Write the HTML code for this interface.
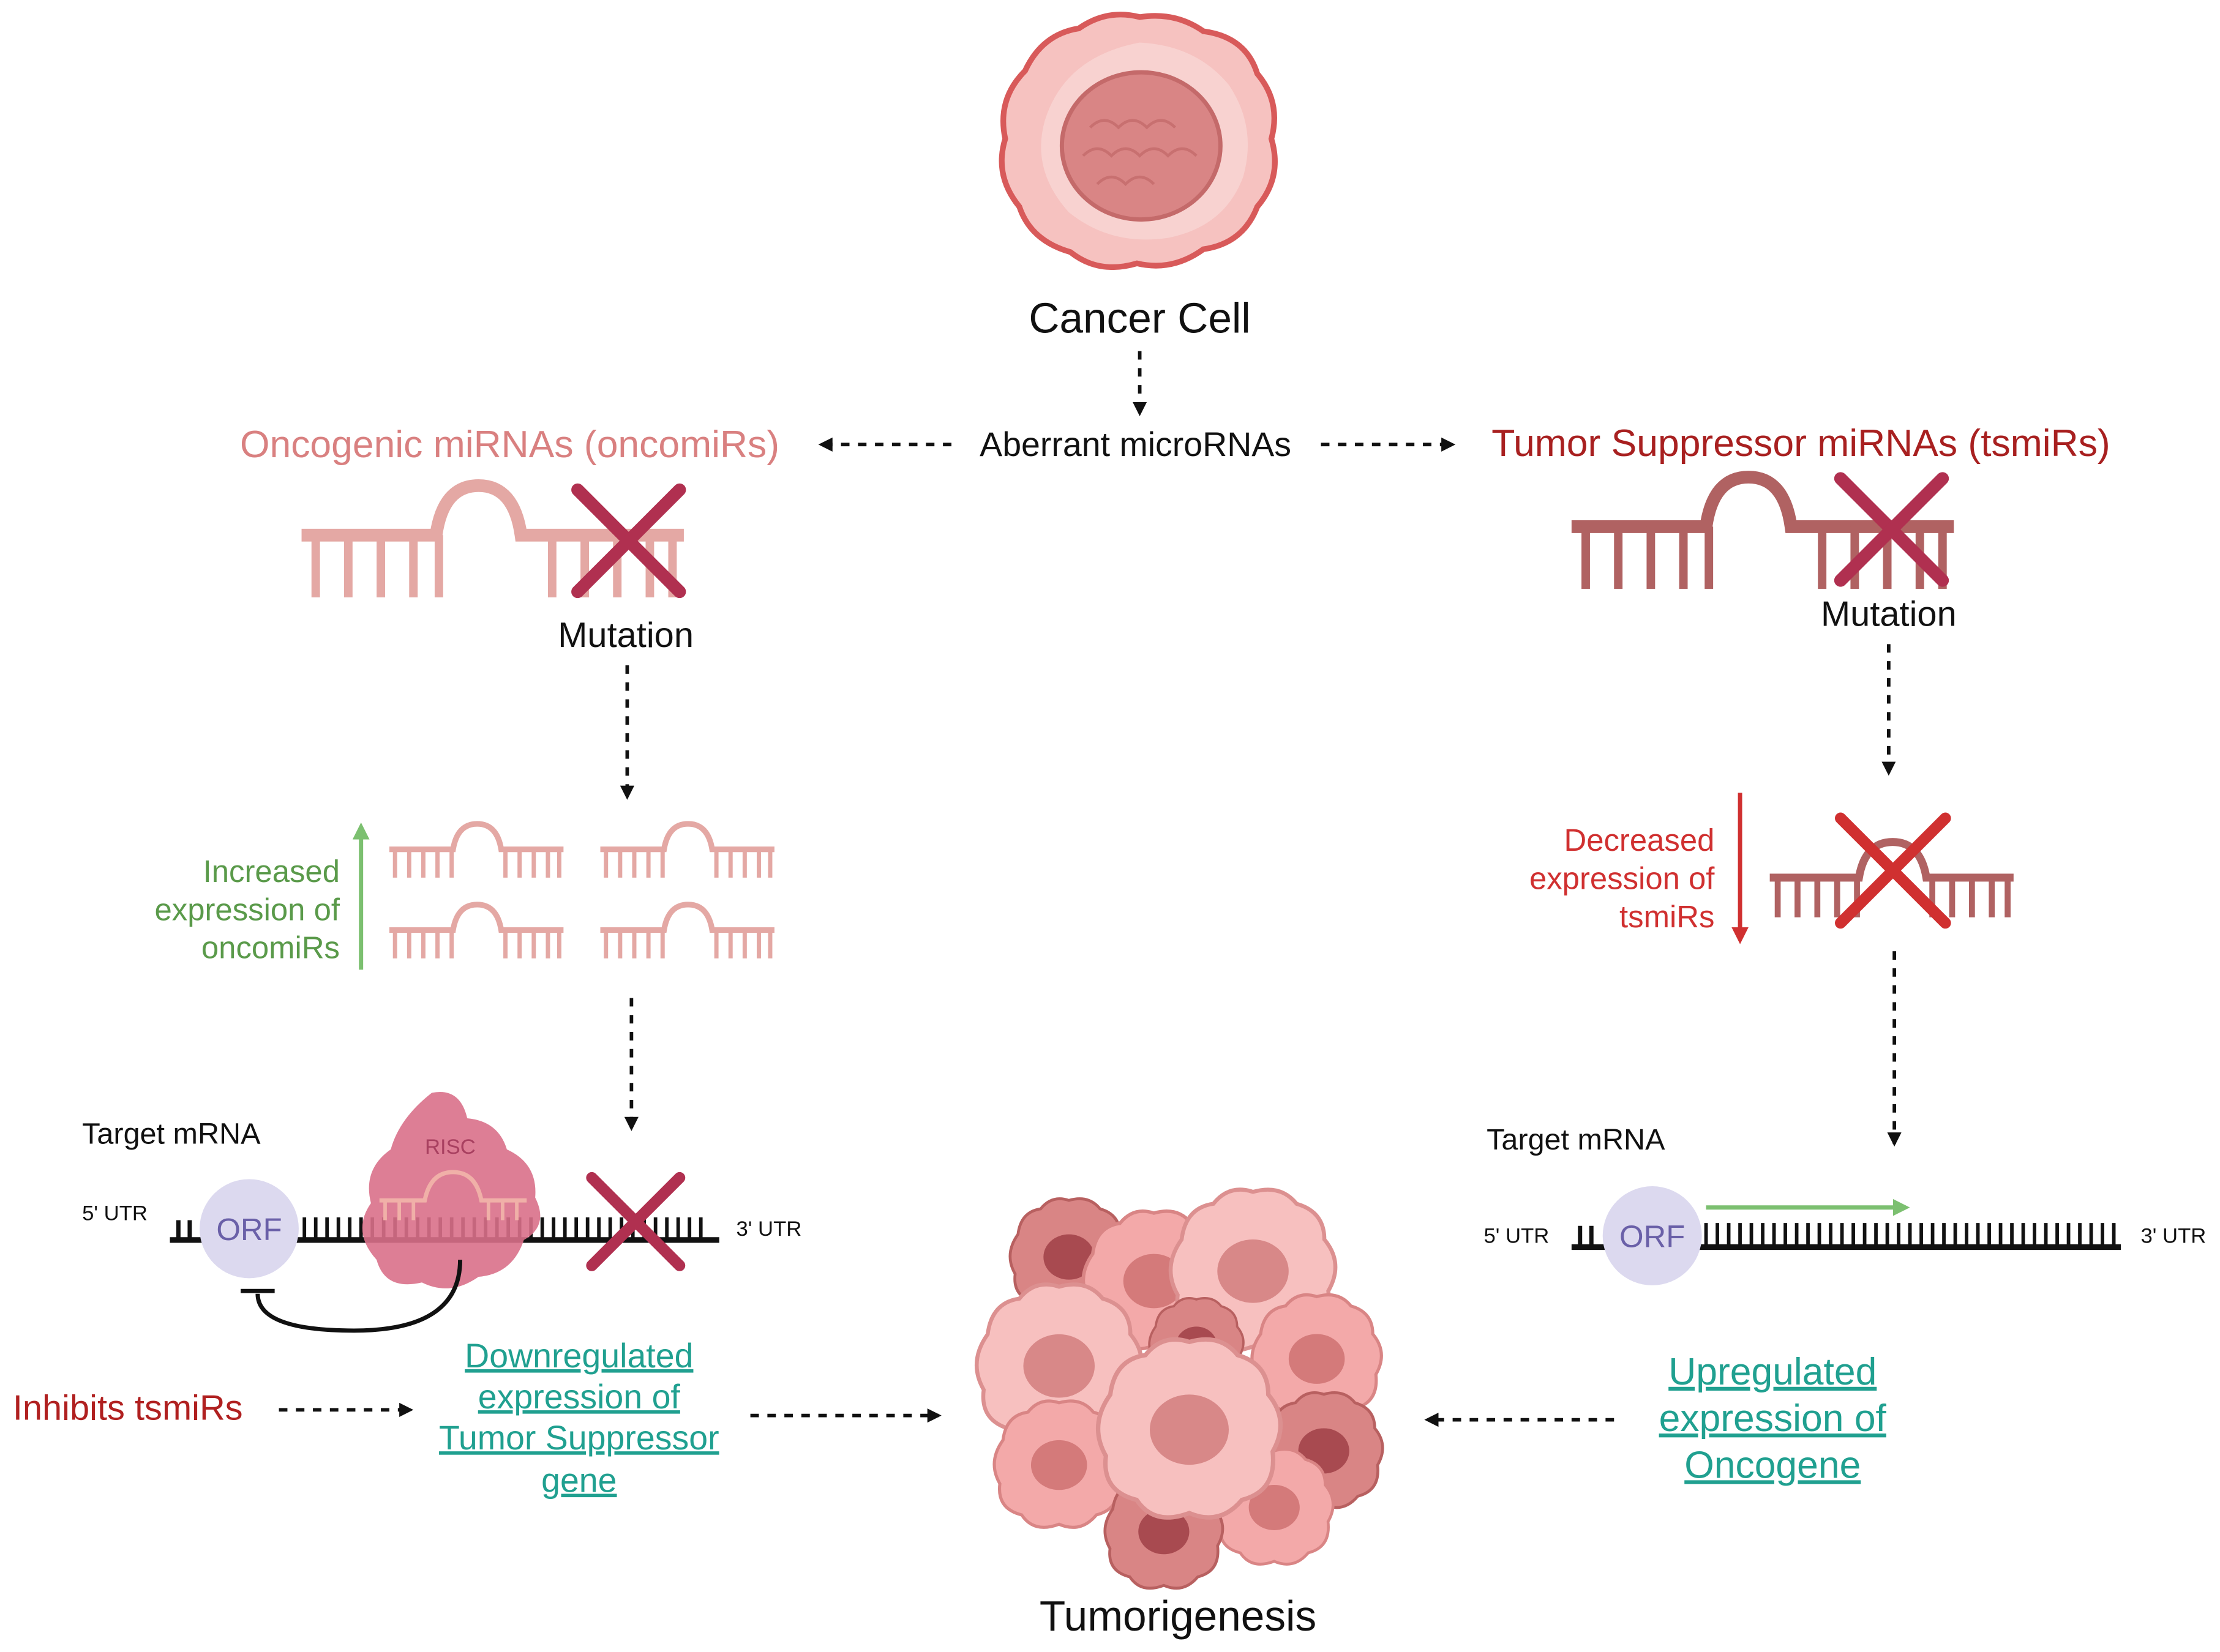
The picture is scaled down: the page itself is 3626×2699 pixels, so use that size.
<!DOCTYPE html>
<html><head><meta charset="utf-8">
<style>
html,body{margin:0;padding:0;background:#fff;}
svg{display:block;}
text{font-family:"Liberation Sans",sans-serif;}
</style></head>
<body>
<svg width="3626" height="2699" viewBox="0 0 1568 1167" xmlns="http://www.w3.org/2000/svg">
<defs>
<marker id="ah" markerWidth="10" markerHeight="10" refX="8" refY="5" orient="auto" markerUnits="userSpaceOnUse">
<path d="M0,0 L10,5 L0,10 z" fill="#111"/></marker>
<marker id="ahg" markerWidth="12" markerHeight="12" refX="9" refY="6" orient="auto" markerUnits="userSpaceOnUse">
<path d="M0,0 L12,6 L0,12 z" fill="#7cc070"/></marker>
<marker id="ahr" markerWidth="12" markerHeight="12" refX="9" refY="6" orient="auto" markerUnits="userSpaceOnUse">
<path d="M0,0 L12,6 L0,12 z" fill="#d03030"/></marker>
<g id="hpL">
<path d="M0,0 H95 Q100,-35 125,-35 Q150,-35 155,0 H270" fill="none" stroke="currentColor" stroke-width="9"/>
<g stroke="currentColor" stroke-width="6">
<line x1="10" y1="0" x2="10" y2="44"/><line x1="33" y1="0" x2="33" y2="44"/><line x1="56" y1="0" x2="56" y2="44"/><line x1="79" y1="0" x2="79" y2="44"/><line x1="97" y1="0" x2="97" y2="44"/>
<line x1="177" y1="0" x2="177" y2="44"/><line x1="200" y1="0" x2="200" y2="44"/><line x1="223" y1="0" x2="223" y2="44"/><line x1="246" y1="0" x2="246" y2="44"/><line x1="262" y1="0" x2="262" y2="44"/>
</g></g>
<g id="hpS">
<path d="M0,0 H45 Q48,-18 62,-18 Q76,-18 79,0 H123" fill="none" stroke="currentColor" stroke-width="4"/>
<g stroke="currentColor" stroke-width="3">
<line x1="4" y1="0" x2="4" y2="20"/><line x1="14" y1="0" x2="14" y2="20"/><line x1="24" y1="0" x2="24" y2="20"/><line x1="34" y1="0" x2="34" y2="20"/><line x1="44" y1="0" x2="44" y2="20"/>
<line x1="82" y1="0" x2="82" y2="20"/><line x1="92" y1="0" x2="92" y2="20"/><line x1="102" y1="0" x2="102" y2="20"/><line x1="112" y1="0" x2="112" y2="20"/><line x1="120" y1="0" x2="120" y2="20"/>
</g></g>
<path id="cs" d="M0,-40 Q14,-44 22,-34 Q36,-30 36,-16 Q46,-4 38,10 Q40,28 24,32 Q14,44 0,38 Q-16,44 -24,32 Q-40,28 -38,12 Q-46,-2 -36,-16 Q-34,-32 -20,-34 Q-12,-44 0,-40z"/>
<g id="cell"><use href="#cs" fill="#f3a9a9" stroke="#d98585" stroke-width="2"/><ellipse cx="0" cy="0" rx="18" ry="16" fill="#d47a7a"/></g>
<g id="cellD"><use href="#cs" fill="#d98585" stroke="#b86060" stroke-width="2"/><ellipse cx="0" cy="0" rx="18" ry="16" fill="#a84a50"/></g>
<g id="cellL"><use href="#cs" fill="#f7c0bf" stroke="#dc9090" stroke-width="2"/><ellipse cx="0" cy="0" rx="18" ry="16" fill="#d88888"/></g>
</defs>

<!-- Cancer cell -->
<path d="M805,12 Q830,8 850,22 Q880,26 888,52 Q905,72 898,98 Q906,125 888,146 Q878,172 850,176 Q828,192 803,186 Q776,194 756,178 Q728,170 720,146 Q702,124 710,98 Q704,70 724,50 Q736,24 762,20 Q782,6 805,12z" fill="#f6c2c0" stroke="#d85a5a" stroke-width="4"/>
<path d="M805,30 Q845,32 868,60 Q888,90 878,125 Q865,160 825,168 Q785,174 755,150 Q728,120 738,85 Q752,40 805,30z" fill="#f9d6d3" opacity="0.8"/>
<ellipse cx="806" cy="103" rx="56" ry="52" fill="#d98585" stroke="#c46a6a" stroke-width="3"/>
<path d="M770,90 q10,-10 20,0 q10,-10 20,0 q10,-10 20,0 M765,110 q10,-10 20,0 q10,-10 20,0 q10,-10 20,0 q10,-10 20,0 M775,130 q10,-10 20,0 q10,-10 20,0" fill="none" stroke="#c87070" stroke-width="2"/>
<text x="805" y="235" font-size="30" text-anchor="middle" fill="#111">Cancer Cell</text>

<g stroke="#111" stroke-width="2.5" stroke-dasharray="6,6" fill="none" marker-end="url(#ah)">
<line x1="805" y1="248" x2="805" y2="292"/>
<line x1="672" y1="314" x2="580" y2="314"/>
<line x1="933" y1="314" x2="1026" y2="314"/>
<line x1="443" y1="470" x2="443" y2="563"/>
<line x1="1334" y1="455" x2="1334" y2="546"/>
<line x1="446" y1="705" x2="446" y2="797"/>
<line x1="1338" y1="672" x2="1338" y2="808"/>
<line x1="197" y1="996" x2="290" y2="996"/>
<line x1="530" y1="1000" x2="663" y2="1000"/>
<line x1="1140" y1="1003" x2="1008" y2="1003"/>
</g>

<text x="802" y="322" font-size="24" text-anchor="middle" fill="#111">Aberrant microRNAs</text>
<text x="360" y="323" font-size="27" text-anchor="middle" fill="#d98080">Oncogenic miRNAs (oncomiRs)</text>
<text x="1272" y="322" font-size="27" text-anchor="middle" fill="#a82020">Tumor Suppressor miRNAs (tsmiRs)</text>

<use href="#hpL" x="213" y="378" style="color:#e4a8a4"/>
<g stroke="#b03050" stroke-width="9" stroke-linecap="round"><line x1="408" y1="346" x2="480" y2="418"/><line x1="480" y1="346" x2="408" y2="418"/></g>
<text x="442" y="457" font-size="25" text-anchor="middle" fill="#111">Mutation</text>

<use href="#hpL" x="1110" y="372" style="color:#b06262"/>
<g stroke="#b03050" stroke-width="9" stroke-linecap="round"><line x1="1300" y1="338" x2="1372" y2="410"/><line x1="1372" y1="338" x2="1300" y2="410"/></g>
<text x="1334" y="442" font-size="25" text-anchor="middle" fill="#111">Mutation</text>

<line x1="255" y1="685" x2="255" y2="584" stroke="#7cc070" stroke-width="3" marker-end="url(#ahg)"/>
<g font-size="22" fill="#5a9a4a" text-anchor="end">
<text x="240" y="623">Increased</text><text x="240" y="650">expression of</text><text x="240" y="677">oncomiRs</text></g>
<use href="#hpS" x="275" y="600" style="color:#e4a8a4"/>
<use href="#hpS" x="424" y="600" style="color:#e4a8a4"/>
<use href="#hpS" x="275" y="657" style="color:#e4a8a4"/>
<use href="#hpS" x="424" y="657" style="color:#e4a8a4"/>

<line x1="1229" y1="560" x2="1229" y2="664" stroke="#d03030" stroke-width="3" marker-end="url(#ahr)"/>
<g font-size="22" fill="#d03030" text-anchor="end">
<text x="1211" y="601">Decreased</text><text x="1211" y="628">expression of</text><text x="1211" y="655">tsmiRs</text></g>
<g transform="translate(1250,620) scale(1.4)" style="color:#b06262"><use href="#hpS"/></g>
<g stroke="#d03030" stroke-width="8" stroke-linecap="round"><line x1="1300" y1="578" x2="1374" y2="652"/><line x1="1374" y1="578" x2="1300" y2="652"/></g>

<text x="58" y="808" font-size="21" fill="#111">Target mRNA</text>
<text x="58" y="862" font-size="15" fill="#111">5' UTR</text>
<text x="520" y="873" font-size="15" fill="#111">3' UTR</text>
<line x1="120" y1="876" x2="508" y2="876" stroke="#111" stroke-width="4"/>
<path d="M126,876V862M134,876V862" stroke="#111" stroke-width="3"/>
<path d="M215,876V860M223,876V860M231,876V860M239,876V860M247,876V860M255,876V860M263,876V860M271,876V860M279,876V860M287,876V860M295,876V860M303,876V860M311,876V860M319,876V860M327,876V860M335,876V860M343,876V860M351,876V860M359,876V860M367,876V860M375,876V860M383,876V860M391,876V860M399,876V860M407,876V860M415,876V860M423,876V860M431,876V860M439,876V860M447,876V860M455,876V860M463,876V860M471,876V860M479,876V860M487,876V860M495,876V860" stroke="#111" stroke-width="2.5"/>
<circle cx="176" cy="868" r="35" fill="#dcd9ef"/>
<text x="176" y="876" font-size="22" text-anchor="middle" fill="#6a60a8">ORF</text>
<path d="M305,772 Q325,768 330,790 Q352,792 358,812 Q380,822 378,846 Q388,866 370,876 Q362,900 338,902 Q318,916 298,906 Q272,912 266,890 Q248,870 262,850 Q256,826 276,812 Q282,790 305,772z" fill="#d9708a" opacity="0.9"/>
<text x="318" y="815" font-size="15" text-anchor="middle" fill="#a84060">RISC</text>
<path d="M268,848 H300 Q304,828 320,828 Q336,828 340,848 H372" fill="none" stroke="#f0b0a8" stroke-width="3"/>
<path d="M272,848V862M282,848V862M292,848V862M345,848V862M355,848V862M365,848V862" stroke="#f0b0a8" stroke-width="2.5"/>
<g stroke="#b03050" stroke-width="8" stroke-linecap="round"><line x1="418" y1="832" x2="480" y2="894"/><line x1="480" y1="832" x2="418" y2="894"/></g>
<path d="M325,890 Q325,940 250,940 Q182,940 182,914" fill="none" stroke="#111" stroke-width="3"/>
<line x1="170" y1="912" x2="194" y2="912" stroke="#111" stroke-width="3"/>

<text x="1050" y="812" font-size="21" fill="#111">Target mRNA</text>
<text x="1048" y="878" font-size="15" fill="#111">5' UTR</text>
<text x="1512" y="878" font-size="15" fill="#111">3' UTR</text>
<line x1="1110" y1="881" x2="1498" y2="881" stroke="#111" stroke-width="4"/>
<path d="M1116,881V866M1124,881V866" stroke="#111" stroke-width="3"/>
<path d="M1205,881V864M1213,881V864M1221,881V864M1229,881V864M1237,881V864M1245,881V864M1253,881V864M1261,881V864M1269,881V864M1277,881V864M1285,881V864M1293,881V864M1301,881V864M1309,881V864M1317,881V864M1325,881V864M1333,881V864M1341,881V864M1349,881V864M1357,881V864M1365,881V864M1373,881V864M1381,881V864M1389,881V864M1397,881V864M1405,881V864M1413,881V864M1421,881V864M1429,881V864M1437,881V864M1445,881V864M1453,881V864M1461,881V864M1469,881V864M1477,881V864M1485,881V864M1493,881V864" stroke="#111" stroke-width="2.5"/>
<circle cx="1167" cy="873" r="35" fill="#dcd9ef"/>
<text x="1167" y="881" font-size="22" text-anchor="middle" fill="#6a60a8">ORF</text>
<line x1="1205" y1="853" x2="1346" y2="853" stroke="#7cc070" stroke-width="3" marker-end="url(#ahg)"/>

<text x="9" y="1003" font-size="25" fill="#b02020">Inhibits tsmiRs</text>
<g font-size="24" fill="#20a090" text-anchor="middle" text-decoration="underline">
<text x="409" y="966">Downregulated</text><text x="409" y="995">expression of</text><text x="409" y="1024">Tumor Suppressor</text><text x="409" y="1054">gene</text></g>
<g font-size="27" fill="#20a090" text-anchor="middle" text-decoration="underline">
<text x="1252" y="978">Upregulated</text><text x="1252" y="1011">expression of</text><text x="1252" y="1044">Oncogene</text></g>

<g>
<use href="#cellD" transform="translate(755,888) scale(1.0)"/>
<use href="#cell" transform="translate(815,905) scale(1.2)"/>
<use href="#cellL" transform="translate(885,898) scale(1.4)"/>
<use href="#cellD" transform="translate(845,950) scale(0.8)"/>
<use href="#cell" transform="translate(930,960) scale(1.1)"/>
<use href="#cellL" transform="translate(748,965) scale(1.4)"/>
<use href="#cellD" transform="translate(935,1025) scale(1.0)"/>
<use href="#cell" transform="translate(748,1035) scale(1.1)"/>
<use href="#cell" transform="translate(900,1065) scale(1.0)"/>
<use href="#cellD" transform="translate(822,1082) scale(1.0)"/>
<use href="#cellL" transform="translate(840,1010) scale(1.55)"/>
</g>
<text x="832" y="1152" font-size="30" text-anchor="middle" fill="#111">Tumorigenesis</text>
</svg>
</body></html>
